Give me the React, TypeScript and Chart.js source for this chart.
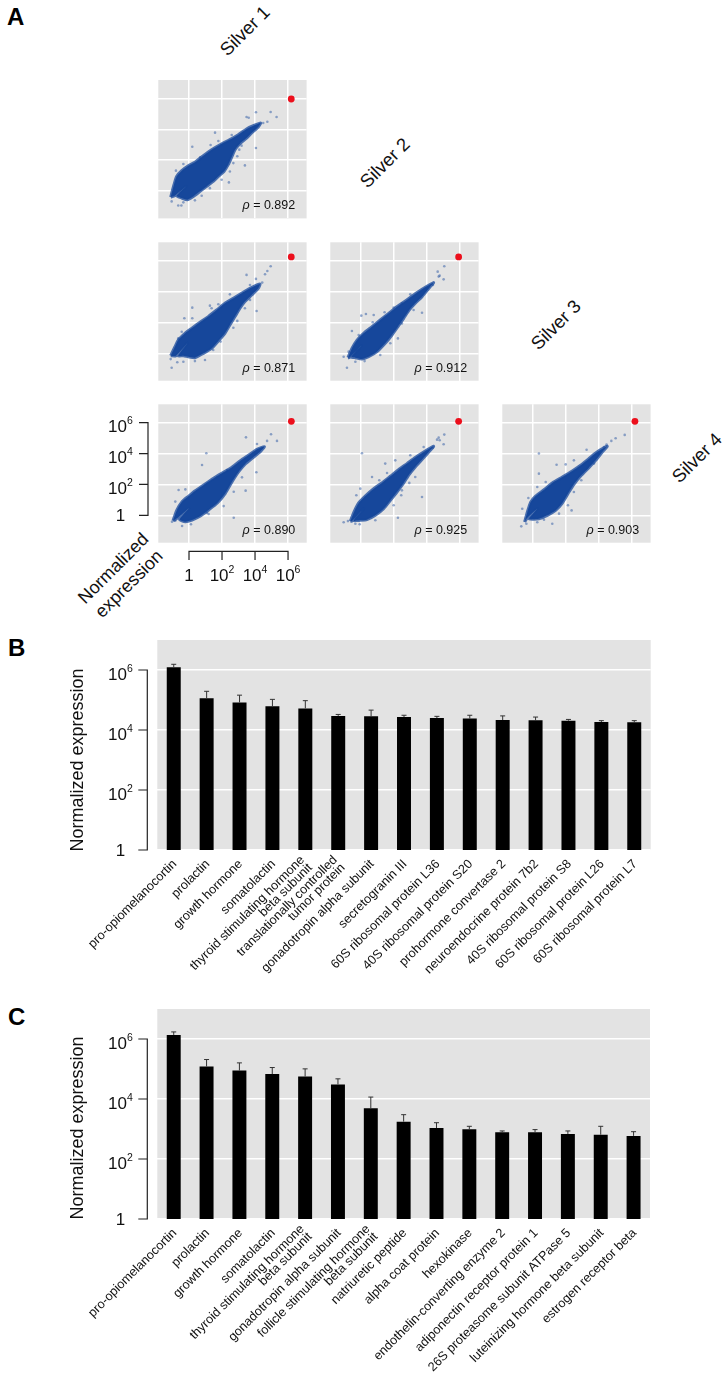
import React, { useEffect, useRef } from "react";
import { Chart, registerables } from "chart.js";

Chart.register(...registerables);

const FONT = '"Liberation Sans", Arial, sans-serif';
const PANEL_BG = "#e3e3e3";
const BLUE = "#16479b";

/* ---------- panel B and C data ---------- */
const labelsB: (string | string[])[] = [
  "pro-opiomelanocortin", "prolactin", "growth hormone", "somatolactin",
  ["thyroid stimulating hormone", "beta subunit"],
  ["translationally controlled", "tumor protein"],
  "gonadotropin alpha subunit", "secretogranin III", "60S ribosomal protein L36",
  "40S ribosomal protein S20", "prohormone convertase 2", "neuroendocrine protein 7b2",
  "40S ribosomal protein S8", "60S ribosomal protein L26", "60S ribosomal protein L7",
];
const valuesB = [1230000, 114000, 83000, 62000, 52500, 29500, 28500, 27000, 25000, 24000, 21500, 21000, 20500, 18500, 18000];
const capsB = [1550000, 195000, 145000, 105000, 95000, 33000, 46000, 31000, 28500, 31000, 29500, 27000, 22500, 20500, 20500];

const labelsC: (string | string[])[] = [
  "pro-opiomelanocortin", "prolactin", "growth hormone", "somatolactin",
  ["thyroid stimulating hormone", "beta subunit"],
  "gonadotropin alpha subunit",
  ["follicle stimulating hormone", "beta subunit"],
  "natriuretic peptide", "alpha coat protein", "hexokinase",
  "endothelin-converting enzyme 2", "adiponectin receptor protein 1",
  "26S proteasome subunit ATPase 5", "luteinizing hormone beta subunit", "estrogen receptor beta",
];
const valuesC = [1365000, 121000, 89000, 67500, 56000, 30500, 4900, 1760, 1080, 980, 776, 776, 684, 646, 589];
const capsC = [1720000, 207000, 160000, 112000, 101000, 47000, 11600, 3000, 1620, 1230, 861, 955, 861, 1230, 813];

/* ---------- panel A data: log10 [x, y] pairs ---------- */
type P = number[];
const cloudS1S2: P[] = [[-1.11,-0.39],[-0.91,0.41],[-0.75,0.95],[-0.44,1.32],[-0.04,1.64],[0.36,1.86],[0.87,2.29],[1.37,2.68],[1.88,3.0],[2.48,3.33],[2.99,3.65],[3.49,4.02],[3.9,4.23],[4.34,4.41],[4.2,4.15],[3.8,3.76],[3.49,3.43],[3.09,3.07],[2.79,2.68],[2.59,2.2],[2.38,1.71],[2.12,1.27],[1.78,0.95],[1.47,0.63],[1.07,0.3],[0.67,-0.02],[0.26,-0.35],[-0.1,-0.56],[-0.44,-0.45],[-0.75,-0.3],[-0.18,0.3],[-0.87,-0.3]];
const fringeS1S2: P[] = [[3.49,4.79],[3.62,4.75],[4.06,5.1],[4.95,5.12],[5.31,4.79],[4.75,4.49],[4.5,4.41],[1.58,3.78],[0.2,2.87],[4.06,2.79],[3.39,1.66],[2.42,0.56],[-1.05,-0.67],[-0.65,-0.93],[-0.46,-0.93],[-0.91,-0.09],[-0.79,1.32],[-0.34,1.75],[0.67,2.18],[1.31,2.98],[1.78,3.24],[2.59,3.63],[3.19,2.94],[3.05,2.68],[2.93,2.25],[2.69,1.81],[2.48,1.27],[1.98,0.73],[1.27,0.19],[0.77,-0.3],[0.36,-0.6],[-0.34,-0.73]];

const cloudS1S3: P[] = [[-1.11,-0.15],[-0.85,0.43],[-0.65,0.86],[-0.24,1.3],[0.16,1.62],[0.67,2.01],[1.17,2.38],[1.68,2.81],[2.18,3.24],[2.69,3.56],[3.19,3.89],[3.7,4.21],[4.3,4.49],[4.2,4.21],[3.8,3.78],[3.39,3.35],[3.09,2.92],[2.79,2.38],[2.48,1.84],[2.18,1.3],[1.78,0.8],[1.37,0.32],[0.87,0],[0.36,-0.28],[-0.04,-0.22],[-0.34,-0.15],[-0.65,-0.15],[-0.1,0.65],[-0.79,-0.15]];
const fringeS1S3: P[] = [[4.95,5.64],[4.75,5.33],[4.61,5.12],[3.49,5.08],[4.06,4.82],[4.44,4.58],[4.1,2.74],[3.7,4.43],[0.2,2.96],[-0.28,2.27],[0.2,2.27],[1.27,3.09],[1.78,3.18],[2.48,3.82],[1.37,2.92],[-1.05,-0.93],[-1.11,-0.37],[-0.71,-0.58],[-0.34,-0.54],[0.36,-0.5],[0.97,-0.43],[-0.65,0.97],[-0.44,1.4],[1.47,0.22],[1.92,0.76],[2.69,1.66],[2.93,2.1],[3.39,2.92],[3.7,3.46]];

const cloudS2S3: P[] = [[-0.79,-0.28],[-0.55,0.32],[-0.24,0.86],[0.16,1.3],[0.67,1.73],[1.17,2.16],[1.68,2.59],[2.18,3.02],[2.69,3.39],[3.19,3.78],[3.7,4.15],[4.4,4.58],[4.2,4.32],[3.7,3.67],[3.29,3.24],[2.93,2.81],[2.59,2.27],[2.24,1.73],[1.88,1.19],[1.47,0.65],[0.97,0.11],[0.46,-0.22],[0.06,-0.37],[-0.34,-0.28],[-0.59,-0.22],[0.02,0.5],[-0.71,-0.28]];
const fringeS2S3: P[] = [[5.05,5.64],[4.65,5.29],[4.71,4.97],[4.77,5.03],[5.01,4.79],[4.36,4.43],[3.7,2.63],[0.02,2.44],[0.3,2.55],[0.77,2.48],[-0.55,1.45],[-0.85,-0.93],[-1.05,-0.22],[-0.75,0.11],[-0.34,-0.54],[0.22,-0.5],[-0.14,1.19],[1.17,-0.11],[1.78,0.65],[2.24,0.97],[2.48,1.94],[3.19,2.81],[1.98,2.96],[2.48,3.24],[2.99,3.82],[0.71,2.01],[1.43,2.66]];

const cloudS1S4: P[] = [[-0.97,-0.35],[-0.73,0.35],[-0.42,0.89],[-0.02,1.25],[0.38,1.6],[0.89,1.97],[1.39,2.33],[1.9,2.68],[2.51,3.05],[3.11,3.54],[3.62,3.91],[4.12,4.28],[4.57,4.45],[4.32,4.13],[3.82,3.69],[3.41,3.33],[3.01,2.83],[2.61,2.18],[2.2,1.43],[1.7,0.78],[1.19,0.35],[0.69,-0.04],[0.18,-0.3],[-0.22,-0.41],[-0.57,-0.26],[-0.02,0.45],[-0.73,-0.19]];
const fringeS1S4: P[] = [[4.97,5.25],[5.33,4.82],[4.73,4.82],[3.45,5.05],[4.12,4.62],[4.42,4.34],[1.05,4.02],[0.79,3.26],[4.08,2.79],[3.43,1.6],[2.71,-0.15],[-0.22,1.68],[-0.83,0.89],[-1.03,-0.41],[-0.42,-0.69],[0.12,-0.58],[1.19,0.09],[2.1,0.6],[2.71,1.53],[3.21,2.46],[2.3,2.94],[1.7,2.46],[1.09,0.17],[-0.83,-0.35],[-0.63,1.64]];

const cloudS2S4: P[] = [[-0.65,-0.37],[-0.38,0.32],[-0.14,0.8],[0.26,1.25],[0.77,1.73],[1.27,2.1],[1.78,2.53],[2.28,2.96],[2.79,3.35],[3.29,3.74],[3.8,4.1],[4.4,4.47],[4.2,4.21],[3.7,3.61],[3.29,3.13],[2.93,2.66],[2.59,2.1],[2.18,1.51],[1.78,0.97],[1.37,0.43],[0.87,0],[0.36,-0.28],[-0.04,-0.32],[-0.44,-0.32],[0.16,0.43],[-0.55,-0.37]];
const fringeS2S4: P[] = [[0.06,4.02],[4.71,5.03],[4.77,4.86],[5.05,5.23],[5.01,4.6],[4.61,4.9],[4.36,4.38],[3.7,1.19],[2.24,-0.15],[-1.05,-0.45],[-0.79,-0.37],[-0.34,-0.54],[-0.08,-0.58],[0.87,-0.32],[-0.28,1.3],[-0.04,1.73],[1.47,3.35],[1.58,2.74],[0.67,2.48],[1.11,2.27],[2.08,3.56],[2.99,3.89],[3.8,4.43],[2.48,1.62],[1.98,0.65],[2.44,1.3],[3.29,2.48],[2.93,2.1]];

const cloudS3S4: P[] = [[-0.51,-0.43],[-0.34,0.22],[-0.14,0.86],[0.16,1.25],[0.67,1.66],[1.17,2.1],[1.78,2.48],[2.38,2.87],[2.89,3.24],[3.39,3.67],[3.8,4.04],[4.5,4.47],[4.2,4.1],[3.8,3.56],[3.39,3.09],[2.93,2.59],[2.48,2.01],[2.12,1.4],[1.78,0.8],[1.37,0.32],[0.87,0],[0.36,-0.22],[-0.24,-0.22],[0.26,0.43],[-0.34,-0.15]];
const fringeS3S4: P[] = [[0.36,4.0],[0.36,2.7],[5.56,5.21],[5.01,4.99],[4.75,4.82],[4.46,4.58],[4.3,4.43],[3.25,4.25],[1.98,3.3],[2.48,3.56],[1.43,3.28],[1.17,-0.54],[-0.71,-0.71],[-0.4,-0.54],[0.26,-0.45],[-0.65,0.43],[-0.28,1.12],[0.26,1.84],[0.77,2.16],[2.34,0.32],[2.12,0.65],[2.48,1.51],[2.93,2.27],[3.7,3.35],[1.58,0.11],[0.67,-0.28]];

const redS1S2: P = [6.2, 5.96];
const redS1S3: P = [6.2, 6.24];
const redS2S3: P = [5.92, 6.24];
const redS1S4: P = [6.2, 6.09];
const redS2S4: P = [5.92, 6.09];
const redS3S4: P = [6.18, 6.09];

const logTicks = [1, 100, 10000, 1000000];
const tickExp = ["", "2", "4", "6"];

/* ---------- drawing helpers ---------- */
function drawTick(ctx: any, exp: string, cx: number, y: number) {
  ctx.textBaseline = "alphabetic";
  ctx.textAlign = "left";
  ctx.fillStyle = "#111";
  if (!exp) {
    ctx.font = `17px ${FONT}`;
    const w = ctx.measureText("1").width;
    ctx.fillText("1", cx - w / 2, y);
    return;
  }
  ctx.font = `17px ${FONT}`;
  const w1 = ctx.measureText("10").width;
  ctx.font = `10.5px ${FONT}`;
  const w2 = ctx.measureText(exp).width;
  const x0 = cx - (w1 + w2) / 2;
  ctx.font = `17px ${FONT}`;
  ctx.fillText("10", x0, y);
  ctx.font = `10.5px ${FONT}`;
  ctx.fillText(exp, x0 + w1, y - 8);
}

function drawYAxis(ctx: any, scale: any, axisX: number, labelX: number) {
  ctx.save();
  ctx.strokeStyle = "#222";
  ctx.lineWidth = 1.2;
  ctx.beginPath();
  ctx.moveTo(axisX, scale.getPixelForValue(logTicks[0]));
  ctx.lineTo(axisX, scale.getPixelForValue(logTicks[3]));
  logTicks.forEach((t) => {
    const y = scale.getPixelForValue(t);
    ctx.moveTo(axisX + 0.6, y);
    ctx.lineTo(axisX - 9, y);
  });
  ctx.stroke();
  logTicks.forEach((t, i) => {
    const y = scale.getPixelForValue(t);
    drawTick(ctx, tickExp[i], labelX, y + (tickExp[i] ? 9.5 : 6));
  });
  ctx.restore();
}

function drawXAxis(ctx: any, scale: any, axisY: number) {
  ctx.save();
  ctx.strokeStyle = "#222";
  ctx.lineWidth = 1.2;
  ctx.beginPath();
  ctx.moveTo(scale.getPixelForValue(logTicks[0]), axisY);
  ctx.lineTo(scale.getPixelForValue(logTicks[3]), axisY);
  logTicks.forEach((t) => {
    const x = scale.getPixelForValue(t);
    ctx.moveTo(x, axisY - 0.6);
    ctx.lineTo(x, axisY + 8.5);
  });
  ctx.stroke();
  logTicks.forEach((t, i) => {
    drawTick(ctx, tickExp[i], scale.getPixelForValue(t), axisY + 30);
  });
  ctx.restore();
}

const bgPlugin = {
  id: "panelBg",
  beforeDraw(chart: any) {
    const { ctx, chartArea: a } = chart;
    ctx.save();
    ctx.fillStyle = PANEL_BG;
    ctx.fillRect(a.left, a.top, a.right - a.left, a.bottom - a.top);
    ctx.restore();
  },
};

const pts = (list: P[]) => list.map(([a, b]) => ({ x: 10 ** a, y: 10 ** b }));

const logAxis = (min: number, max: number, display: boolean) => ({
  type: "logarithmic" as const,
  min,
  max,
  display,
  border: { display: false },
  grid: { color: "#ffffff", lineWidth: 1.5, drawTicks: false },
  ticks: { display: false, autoSkip: false },
  afterBuildTicks(axis: any) {
    axis.ticks = logTicks.map((value) => ({ value }));
  },
});

/* ---------- scatter panel ---------- */
interface ScatterProps {
  left: number; top: number; w: number; h: number;
  pad: { left: number; top: number; right: number; bottom: number };
  cloud: P[]; fringe: P[]; red: P; rho: string; axes?: boolean;
}

function Scatter({ left, top, w, h, pad, cloud, fringe, red, rho, axes }: ScatterProps) {
  const ref = useRef<HTMLCanvasElement>(null);
  useEffect(() => {
    const overlay = {
      id: "overlay",
      afterDraw(chart: any) {
        const { ctx, chartArea: a, scales } = chart;
        ctx.save();
        ctx.fillStyle = "#111";
        ctx.textBaseline = "alphabetic";
        ctx.textAlign = "left";
        ctx.font = `12.5px ${FONT}`;
        const rest = ` = ${rho}`;
        const rw = ctx.measureText(rest).width;
        ctx.fillText(rest, a.right - 11.4 - rw, a.bottom - 9);
        ctx.font = `italic 12.5px ${FONT}`;
        const gw = ctx.measureText("ρ").width;
        ctx.fillText("ρ", a.right - 11.4 - rw - gw, a.bottom - 9);
        ctx.restore();
        if (axes) {
          drawYAxis(ctx, scales.y, a.left - 10.3, 120.4);
          drawXAxis(ctx, scales.x, a.bottom + 8.7);
        }
      },
    };
    const chart = new Chart(ref.current as HTMLCanvasElement, {
      type: "scatter",
      data: {
        datasets: [
          { data: pts([red]), pointRadius: 3.4, pointBackgroundColor: "#ec0f1c", pointBorderWidth: 0, showLine: false },
          { data: pts(fringe), pointRadius: 1.3, pointBackgroundColor: "rgba(22,71,155,0.45)", pointBorderWidth: 0, showLine: false },
          {
            data: pts([...cloud, cloud[0]]),
            showLine: true,
            pointRadius: 0,
            borderWidth: 3,
            borderColor: "rgba(22,71,155,0.75)",
            borderJoinStyle: "round",
            backgroundColor: BLUE,
            fill: "shape",
            tension: 0.2,
          },
        ] as any,
      },
      options: {
        responsive: false,
        animation: false,
        devicePixelRatio: 1,
        layout: { padding: pad, autoPadding: false },
        plugins: { legend: { display: false }, tooltip: { enabled: false } },
        scales: {
          x: logAxis(10 ** -1.86, 10 ** 7.13, true),
          y: logAxis(10 ** -1.77, 10 ** 7.19, true),
        } as any,
      },
      plugins: [bgPlugin, overlay],
    });
    return () => chart.destroy();
  }, []);
  return <canvas ref={ref} width={w} height={h} style={{ position: "absolute", left, top, width: w, height: h, display: "block" }} />;
}

/* ---------- bar panel ---------- */
interface BarsProps {
  top: number; h: number;
  pad: { left: number; top: number; right: number; bottom: number };
  labels: (string | string[])[]; values: number[]; caps: number[];
}

function Bars({ top, h, pad, labels, values, caps }: BarsProps) {
  const ref = useRef<HTMLCanvasElement>(null);
  useEffect(() => {
    const overlay = {
      id: "overlay",
      afterDatasetsDraw(chart: any) {
        const { ctx, scales } = chart;
        ctx.save();
        ctx.strokeStyle = "#333";
        ctx.lineWidth = 1;
        values.forEach((v, i) => {
          const x = scales.x.getPixelForValue(i);
          const y0 = scales.y.getPixelForValue(v);
          const y1 = scales.y.getPixelForValue(caps[i]);
          ctx.beginPath();
          ctx.moveTo(x, y0);
          ctx.lineTo(x, y1);
          ctx.moveTo(x - 2.5, y1);
          ctx.lineTo(x + 2.5, y1);
          ctx.stroke();
        });
        ctx.restore();
      },
      afterDraw(chart: any) {
        const { ctx, scales, chartArea: a } = chart;
        drawYAxis(ctx, scales.y, 147.3, 120.4);
        ctx.save();
        ctx.fillStyle = "#111";
        ctx.font = `12.7px ${FONT}`;
        ctx.textAlign = "right";
        ctx.textBaseline = "middle";
        labels.forEach((lab, i) => {
          const lines = Array.isArray(lab) ? lab : [lab];
          const lh = 11;
          ctx.save();
          ctx.translate(scales.x.getPixelForValue(i) + 1, a.bottom + 12);
          ctx.rotate(-Math.PI / 4);
          lines.forEach((line, k) => {
            ctx.fillText(line, 0, (k - (lines.length - 1) / 2) * lh);
          });
          ctx.restore();
        });
        ctx.restore();
      },
    };
    const chart = new Chart(ref.current as HTMLCanvasElement, {
      type: "bar",
      data: {
        labels: labels.map((l) => (Array.isArray(l) ? l.join(" ") : l)),
        datasets: [{ data: values, backgroundColor: "#000", barPercentage: 1, categoryPercentage: 0.425 }],
      },
      options: {
        responsive: false,
        animation: false,
        devicePixelRatio: 1,
        layout: { padding: pad, autoPadding: false },
        plugins: { legend: { display: false }, tooltip: { enabled: false } },
        scales: {
          x: {
            display: true,
            border: { display: false },
            grid: { display: false, drawTicks: false },
            ticks: { display: false },
          },
          y: logAxis(1, 10000000, true),
        } as any,
      },
      plugins: [bgPlugin, overlay],
    });
    return () => chart.destroy();
  }, []);
  return <canvas ref={ref} width={728} height={h} style={{ position: "absolute", left: 0, top, width: 728, height: h, display: "block" }} />;
}

/* ---------- page ---------- */
const textBase: React.CSSProperties = {
  position: "absolute",
  fontFamily: FONT,
  color: "#111",
  whiteSpace: "nowrap",
};

function Rotated({ x, y, angle, children, size = 18 }: any) {
  return (
    <div style={{ ...textBase, left: x, top: y, fontSize: size, lineHeight: "22px", textAlign: "center", transform: `translate(-50%,-50%) rotate(${angle}deg)` }}>
      {children}
    </div>
  );
}

function Letter({ x, y, children }: any) {
  return <div style={{ ...textBase, left: x, top: y, fontSize: 24, fontWeight: "bold", lineHeight: "24px", color: "#000" }}>{children}</div>;
}

const W = 149;
const H = 139;
const padNone = (dx: number, dy: number) => ({ left: dx, top: dy, right: 0.7 - dx, bottom: 0.6 - dy });

export default function App() {
  return (
    <div style={{ position: "absolute", left: 0, top: 0, width: 728, height: 1379, overflow: "hidden", background: "#fff" }}>
      <Letter x={7} y={5}>A</Letter>
      <Letter x={8} y={636}>B</Letter>
      <Letter x={8} y={1005}>C</Letter>

      <Rotated x={245} y={31} angle={-45} size={18.5}>Silver 1</Rotated>
      <Rotated x={385} y={163} angle={-45} size={18.5}>Silver 2</Rotated>
      <Rotated x={556} y={325} angle={-45} size={18.5}>Silver 3</Rotated>
      <Rotated x={696.7} y={457.7} angle={-45} size={18.5}>Silver 4</Rotated>
      <Rotated x={120.7} y={576} angle={-45}>Normalized<br />expression</Rotated>

      <Scatter left={158} top={80} w={W} h={H} pad={padNone(0.3, 0)} cloud={cloudS1S2} fringe={fringeS1S2} red={redS1S2} rho="0.892" />
      <Scatter left={158} top={242} w={W} h={H} pad={padNone(0.3, 0.3)} cloud={cloudS1S3} fringe={fringeS1S3} red={redS1S3} rho="0.871" />
      <Scatter left={330} top={242} w={W} h={H} pad={padNone(0.3, 0.3)} cloud={cloudS2S3} fringe={fringeS2S3} red={redS2S3} rho="0.912" />
      <Scatter left={0} top={394} w={320} h={226} pad={{ left: 158.3, top: 10.3, right: 13.3, bottom: 77.3 }} cloud={cloudS1S4} fringe={fringeS1S4} red={redS1S4} rho="0.890" axes />
      <Scatter left={330} top={404} w={W} h={H} pad={padNone(0.3, 0.3)} cloud={cloudS2S4} fringe={fringeS2S4} red={redS2S4} rho="0.925" />
      <Scatter left={502} top={404} w={W} h={H} pad={padNone(0.3, 0.3)} cloud={cloudS3S4} fringe={fringeS3S4} red={redS3S4} rho="0.903" />

      <Bars top={635} h={360} pad={{ left: 157.3, top: 5, right: 77.3, bottom: 145 }} labels={labelsB} values={valuesB} caps={capsB} />
      <Bars top={1004} h={375} pad={{ left: 157.3, top: 5, right: 78, bottom: 160 }} labels={labelsC} values={valuesC} caps={capsC} />

      <Rotated x={77} y={760} angle={-90}>Normalized expression</Rotated>
      <Rotated x={77} y={1128} angle={-90}>Normalized expression</Rotated>
    </div>
  );
}
